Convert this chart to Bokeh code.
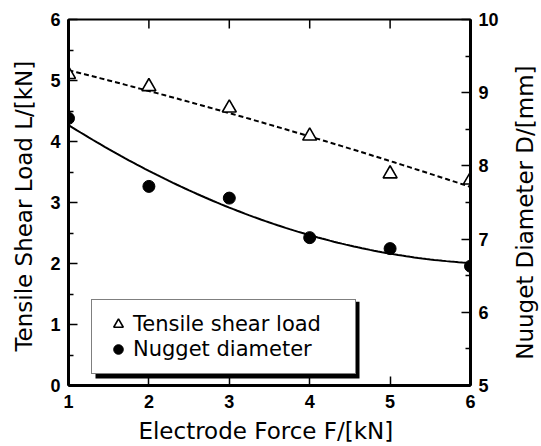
import math
import numpy as np
from bokeh.plotting import figure
from bokeh.models import (Range1d, LinearAxis, FixedTicker, Legend, LegendItem, Label,
                          BoxAnnotation)
from bokeh.embed import file_html
from bokeh.resources import INLINE

# ---- data ----
force = [1, 2, 3, 4, 5, 6]
tensile_load = [5.10, 4.90, 4.55, 4.09, 3.47, 3.37]
nugget_dia = [8.65, 7.72, 7.56, 7.02, 6.87, 6.63]
x_ticks = [1, 2, 3, 4, 5, 6]
load_ticks = [0, 1, 2, 3, 4, 5, 6]
dia_ticks = [5, 6, 7, 8, 9, 10]
series_names = ["Tensile shear load", "Nugget diameter"]

# quadratic trend lines fitted to the data
x_fit = np.linspace(min(force), max(force), 101)
load_fit = np.polyval(np.polyfit(force, tensile_load, 2), x_fit)
dia_fit = np.polyval(np.polyfit(force, nugget_dia, 2), x_fit)

TITLE_FONT = "DejaVu Sans"
TICK_FONT = "Liberation Sans"
W, H = 541, 446
BL, BR, BT, BB = 68, 71, 19, 60
frame_w = W - BL - BR
frame_h = H - BT - BB

p = figure(width=W, height=H, output_backend="svg", toolbar_location=None,
           x_range=Range1d(x_ticks[0], x_ticks[-1]),
           y_range=Range1d(load_ticks[0], load_ticks[-1]),
           min_border_left=BL, min_border_right=BR, min_border_top=BT, min_border_bottom=BB)
p.extra_y_ranges = {"dia": Range1d(dia_ticks[0], dia_ticks[-1])}
p.xgrid.visible = False
p.ygrid.visible = False
p.outline_line_color = "black"
p.outline_line_width = 2
p.background_fill_color = "white"
p.border_fill_color = "white"


def style(ax, ticks, minor, width=3):
    ax.ticker = FixedTicker(ticks=ticks, minor_ticks=minor)
    ax.major_tick_in = 9
    ax.major_tick_out = 0
    ax.minor_tick_in = 5
    ax.minor_tick_out = 0
    ax.axis_line_width = width
    ax.axis_line_color = "black"
    ax.major_tick_line_width = 1.5
    ax.minor_tick_line_width = 1.5
    ax.major_tick_line_color = "black"
    ax.minor_tick_line_color = "black"
    ax.major_label_text_font = TICK_FONT
    ax.major_label_text_font_style = "bold"
    ax.major_label_text_font_size = "18px"
    ax.major_label_text_color = "black"
    ax.axis_label_text_font = TITLE_FONT
    ax.axis_label_text_font_style = "normal"
    ax.axis_label_text_font_size = "23px"
    ax.axis_label_text_color = "black"


xb = p.xaxis[0]
style(xb, x_ticks, [])
xb.axis_label = "Electrode Force  F/[kN]"
xb.major_label_standoff = 9
xb.axis_label_standoff = 7

yl = p.yaxis[0]
style(yl, load_ticks, [v + 0.5 for v in load_ticks[:-1]])
yl.axis_label = "Tensile Shear Load  L/[kN]"
yl.major_label_standoff = 8
yl.axis_label_standoff = 10

yr = LinearAxis(y_range_name="dia")
style(yr, dia_ticks, [v + 0.5 for v in dia_ticks[:-1]])
yr.major_label_standoff = 8
p.add_layout(yr, "right")

# right axis title in the right-hand panel, reading bottom-to-top like the reference
p.add_layout(Label(x=23, y=frame_h / 2 - 7, x_units="screen", y_units="screen",
                   text="Nuuget Diameter  D/[mm]", angle=math.pi / 2,
                   text_align="center", text_baseline="alphabetic",
                   text_font=TITLE_FONT, text_font_size="23px", text_color="black"), "right")

# inward ticks along the top edge (clipped to the frame so only the inner half shows)
p.scatter(x_ticks, [load_ticks[-1]] * len(x_ticks), marker="dash", angle=math.pi / 2,
          size=18, line_color="black", line_width=1.5)

# trend lines
p.line(x_fit, load_fit, line_color="black", line_width=2, line_dash="5 3")
p.line(x_fit, dia_fit, line_color="black", line_width=2, y_range_name="dia")

# markers
r_tri = p.scatter(force, tensile_load, marker="triangle", size=14,
                  fill_color="white", line_color="black", line_width=1.6)
r_cir = p.scatter(force, nugget_dia, marker="circle", size=12,
                  fill_color="black", line_color="black", y_range_name="dia")

# legend with a drop shadow
LEG_X, LEG_Y, LEG_W, LEG_H, SH = 23, 11, 264, 77, 4
sx = (x_ticks[-1] - x_ticks[0]) / frame_w
sy = (load_ticks[-1] - load_ticks[0]) / frame_h
p.add_layout(BoxAnnotation(left=x_ticks[0] + (LEG_X + SH) * sx,
                           right=x_ticks[0] + (LEG_X + SH + LEG_W) * sx,
                           bottom=load_ticks[0] + (LEG_Y - SH) * sy,
                           top=load_ticks[0] + (LEG_Y - SH + LEG_H) * sy,
                           fill_color="black", fill_alpha=1.0, line_color=None))

lg = Legend(items=[LegendItem(label=series_names[0], renderers=[r_tri]),
                   LegendItem(label=series_names[1], renderers=[r_cir])],
            location=(LEG_X, LEG_Y), orientation="vertical")
lg.padding = 12
lg.spacing = 1
lg.margin = 0
lg.glyph_width = 28
lg.glyph_height = 24
lg.label_height = 24
lg.label_standoff = 1
lg.label_width = 210
lg.label_text_font = TITLE_FONT
lg.label_text_font_size = "21px"
lg.border_line_color = "black"
lg.border_line_width = 1.5
lg.background_fill_color = "white"
lg.background_fill_alpha = 1.0
lg.label_text_color = "black"
p.add_layout(lg, "center")

open("out.html", "w").write(file_html(p, INLINE))
